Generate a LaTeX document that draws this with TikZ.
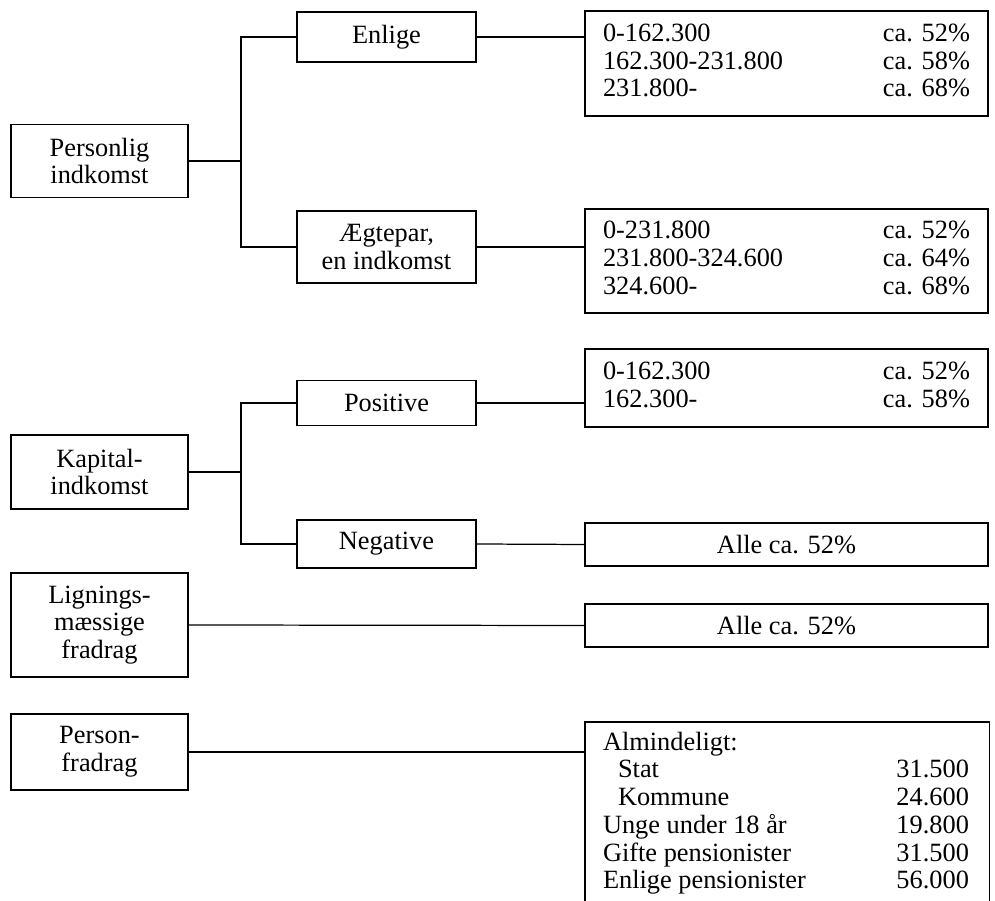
\documentclass[tikz,border=0pt]{standalone}
\usepackage{fontspec}
\setmainfont{Liberation Serif}
\newcommand{\satstabel}[2][7.34cm]{\begin{tabular*}{#1}{@{}l@{\extracolsep{\fill}}r@{}}#2\end{tabular*}}
\begin{document}
\begin{tikzpicture}[x=0.02cm, y=-0.02cm, line width=0.7pt,
    font=\fontsize{15}{15.8}\selectfont,
    venstre/.style={draw, inner sep=0pt, align=center, minimum width=3.54cm},
    midt/.style={draw, inner sep=0pt, align=center, minimum width=3.58cm},
    satser/.style={draw, inner sep=0pt, align=center, minimum width=8.06cm}]
  \clip (0,0) rectangle (995,901);

  % Left column
  \node[venstre, minimum height=1.46cm] (pers) at (99.5,161) {Personlig\\indkomst};
  \node[venstre, minimum height=1.48cm] (kap) at (99.5,472) {Kapital-\\indkomst};
  \node[venstre, minimum height=2.08cm] (lign) at (99.5,625) {Lignings-\\mæssige\\fradrag};
  \node[venstre, minimum height=1.52cm] (pfr) at (99.5,752) {Person-\\fradrag};

  % Middle column
  \node[midt, minimum height=1.0cm] (enl) at (386.5,37) {Enlige};
  \node[midt, minimum height=1.44cm] (aeg) at (386.5,247) {Ægtepar,\\en indkomst};
  \node[midt, minimum height=0.9cm] (pos) at (386.5,403) {Positive};
  \node[midt, minimum height=0.96cm] (neg) at (386.5,544) {Negative};

  % Right column
  \node[satser, minimum height=2.1cm] (r1) at (786.5,63.5)
    {\satstabel{0-162.300 & ca. 52\%\\ 162.300-231.800 & ca. 58\%\\ 231.800- & ca. 68\%}};
  \node[satser, minimum height=2.08cm] (r2) at (786.5,261)
    {\satstabel{0-231.800 & ca. 52\%\\ 231.800-324.600 & ca. 64\%\\ 324.600- & ca. 68\%}};
  \node[satser, minimum height=1.56cm] (r3) at (786.5,388)
    {\satstabel{0-162.300 & ca. 52\%\\ 162.300- & ca. 58\%}};
  \node[satser, minimum height=0.86cm] (alle1) at (786.5,544.5) {Alle ca. 52\%};
  \node[satser, minimum height=0.86cm] (alle2) at (786.5,625.5) {Alle ca. 52\%};

  % Open box for the allowances
  \node[inner sep=0pt, minimum width=8.06cm, minimum height=3.7cm, anchor=north west] (fradrag) at (585,722) {};
  \draw (fradrag.south west) -- (fradrag.north west) -- (fradrag.north east) -- (fradrag.south east);
  \node[inner sep=0pt, anchor=north] (fradragtekst) at (786,730)
    {\satstabel[7.32cm]{Almindeligt: & \\ \hspace*{0.3cm}Stat & 31.500\\ \hspace*{0.3cm}Kommune & 24.600\\
      Unge under 18 år & 19.800\\ Gifte pensionister & 31.500\\ Enlige pensionister & 56.000}};

  % Brackets
  \coordinate (bk1) at (241,161);
  \coordinate (bk2) at (241,472);
  \draw (pers.east) -- (bk1);
  \draw (enl.west) -| (bk1) |- (aeg.west);
  \draw (kap.east) -- (bk2);
  \draw (pos.west) -| (bk2) |- (neg.west);

  % Lines to the rates
  \draw (enl.east) -- (enl.east -| r1.west);
  \draw (aeg.east) -- (aeg.east -| r2.west);
  \draw (pos.east) -- (pos.east -| r3.west);
  \draw (neg.east) -- (alle1.west);
  \draw (lign.east) -- (alle2.west);
  \draw (pfr.east) -- (pfr.east -| fradrag.west);
\end{tikzpicture}
\end{document}
